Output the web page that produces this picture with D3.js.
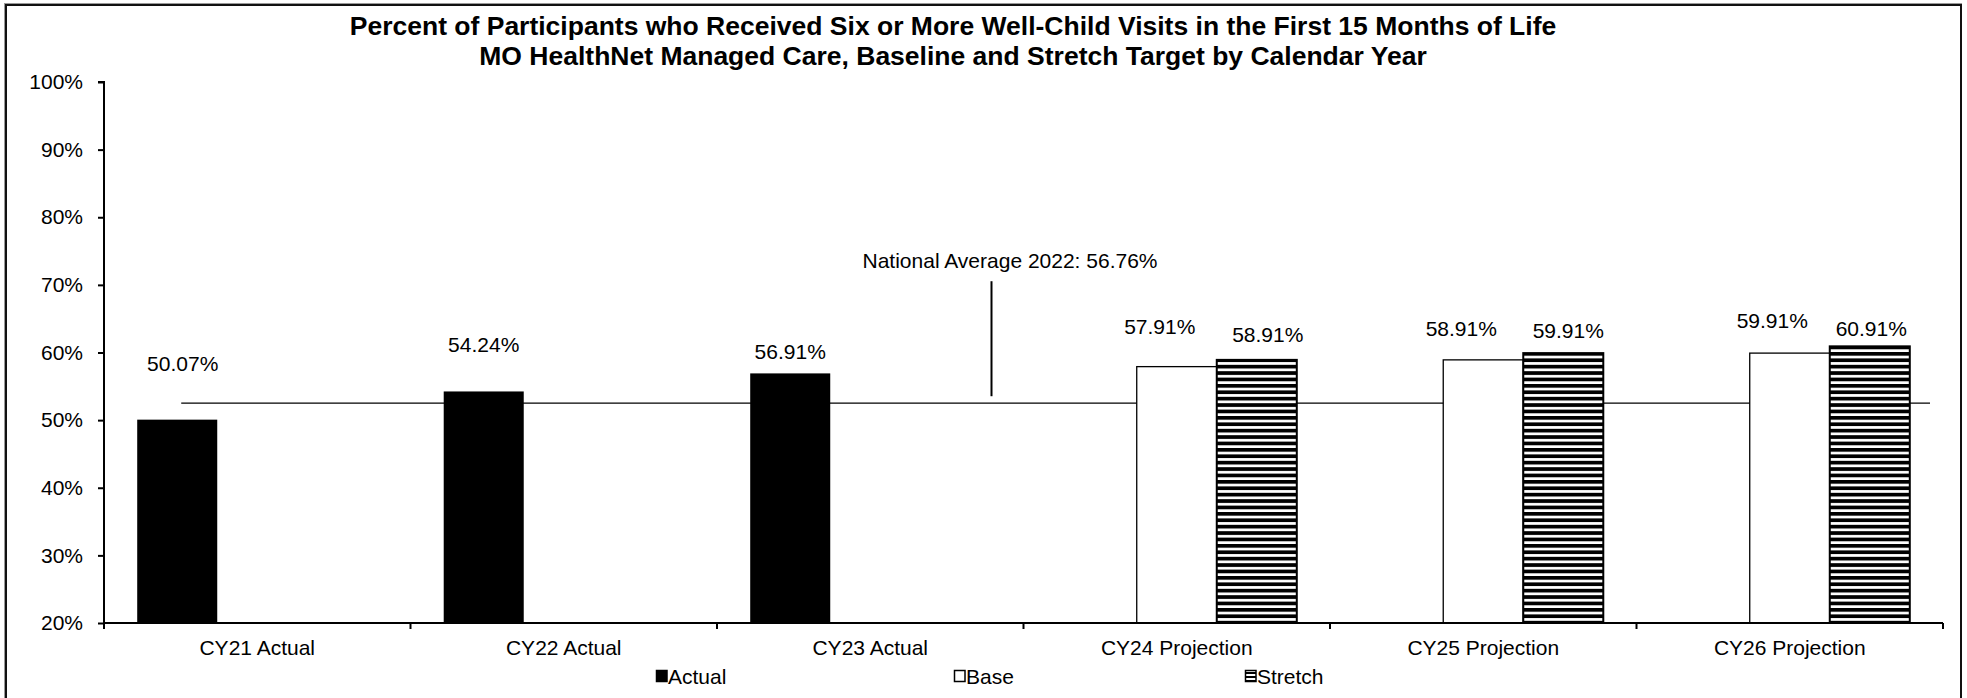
<!DOCTYPE html>
<html>
<head>
<meta charset="utf-8">
<script src="https://cdn.jsdelivr.net/npm/d3@7/dist/d3.min.js"></script>
<style>
  html, body { margin: 0; padding: 0; background: #fff; }
  svg { display: block; }
  text { font-family: "Liberation Sans", Arial, sans-serif; fill: #000; }
</style>
</head>
<body>
<svg id="chart" width="1967" height="698"></svg>
<script>
// ---------- data ----------
const titleLines = [
  "Percent of Participants who Received Six or More Well-Child Visits in the First 15 Months of Life",
  "MO HealthNet Managed Care, Baseline and Stretch Target by Calendar Year"
];
const categories = ["CY21 Actual", "CY22 Actual", "CY23 Actual", "CY24 Projection", "CY25 Projection", "CY26 Projection"];
const seriesNames = ["Actual", "Base", "Stretch"];
const actualValues  = [50.07, 54.24, 56.91, null, null, null];
const baseValues    = [null, null, null, 57.91, 58.91, 59.91];
const stretchValues = [null, null, null, 58.91, 59.91, 60.91];
const yTicks = [20, 30, 40, 50, 60, 70, 80, 90, 100];
const nationalAverageText = "National Average 2022: 56.76%";
const nationalLineLevel = 52.5;   // level at which the reference line is drawn in the picture

// ---------- layout / style (kept apart from data) ----------
const plot = { left: 104, right: 1943, top: 82, bottom: 623 };
const fontSize = 21;
// label nudges: [dx from bar centre, baseline distance above bar top]
const labelNudge = {
  Actual:  [[5.5, 49], [0, 39], [0, 14], null, null, null],
  Base:    [null, null, null, [-17, 33], [-22, 24], [-17.5, 25.6]],
  Stretch: [null, null, null, [11, 18], [5, 15], [1.5, 10]]
};
const legendX = [656, 954, 1245];

const svg = d3.select("#chart");

// pattern for Stretch
const defs = svg.append("defs");
const pat = defs.append("pattern").attr("id", "hstripe")
  .attr("patternUnits", "userSpaceOnUse").attr("width", 8).attr("height", 6.4);
pat.append("rect").attr("width", 8).attr("height", 6.4).attr("fill", "#fff");
pat.append("rect").attr("width", 8).attr("height", 3.7).attr("fill", "#000");
const patS = defs.append("pattern").attr("id", "hstripeSmall")
  .attr("patternUnits", "userSpaceOnUse").attr("width", 4).attr("height", 4);
patS.append("rect").attr("width", 4).attr("height", 4).attr("fill", "#fff");
patS.append("rect").attr("width", 4).attr("height", 2).attr("fill", "#000");

// outer border
svg.append("rect").attr("x", 4.5).attr("y", 3.5).attr("width", 1957).attr("height", 720)
  .attr("fill", "none").attr("stroke", "#999").attr("stroke-width", 1);
svg.append("rect").attr("x", 6).attr("y", 5).attr("width", 1955).attr("height", 720)
  .attr("fill", "none").attr("stroke", "#111").attr("stroke-width", 2);

// title
const title = svg.append("text").attr("text-anchor", "middle")
  .style("font-weight", "bold").style("font-size", "26.5px");
titleLines.forEach((t, i) => {
  title.append("tspan").attr("x", 953).attr("y", 35 + i * 30).text(t);
});

// scales
const x0 = d3.scaleBand().domain(categories).range([plot.left, plot.right]).paddingInner(0).paddingOuter(0);
const x1 = d3.scaleBand().domain(seriesNames).range([0, x0.bandwidth()]).paddingInner(0).paddingOuter(0.415);
const y = d3.scaleLinear().domain([20, 100]).range([plot.bottom, plot.top]);

const seriesData = { Actual: actualValues, Base: baseValues, Stretch: stretchValues };
const fills = { Actual: "#000", Base: "#fff", Stretch: "url(#hstripe)" };

// national average line (behind bars)
const natY = y(nationalLineLevel);
const natX1 = x0(categories[0]) + x1("Actual") + x1.bandwidth() / 2 + 4;
const natX2 = plot.right - 13;
svg.append("line").attr("x1", natX1).attr("x2", natX2).attr("y1", natY).attr("y2", natY)
  .attr("stroke", "#000").attr("stroke-width", 1.3);

// bars
seriesNames.forEach(s => {
  const vals = seriesData[s];
  const recs = categories.map((c, i) => ({ c, i, v: vals[i] })).filter(d => d.v != null);
  svg.append("g").selectAll("rect").data(recs).join("rect")
    .attr("x", d => x0(d.c) + x1(s))
    .attr("width", x1.bandwidth())
    .attr("y", d => y(d.v))
    .attr("height", d => y(20) - y(d.v))
    .attr("fill", fills[s])
    .attr("stroke", s === "Actual" ? "none" : "#000")
    .attr("stroke-width", s === "Stretch" ? 2 : 1.3);
  svg.append("g").selectAll("text").data(recs).join("text")
    .attr("text-anchor", "middle")
    .style("font-size", fontSize + "px")
    .attr("x", d => x0(d.c) + x1(s) + x1.bandwidth() / 2 + labelNudge[s][d.i][0])
    .attr("y", d => y(d.v) - labelNudge[s][d.i][1])
    .text(d => d.v.toFixed(2) + "%");
});

// callout
const calloutX = x0(categories[3]) - 32;
svg.append("line").attr("x1", calloutX).attr("x2", calloutX)
  .attr("y1", natY - 7).attr("y2", natY - 122)
  .attr("stroke", "#000").attr("stroke-width", 2);
svg.append("text").attr("x", calloutX - 129).attr("y", natY - 135)
  .style("font-size", fontSize + "px").text(nationalAverageText);

// y axis
const yAxis = d3.axisLeft(y).tickValues(yTicks).tickFormat(d => d + "%").tickSize(6).tickPadding(15);
const gy = svg.append("g").attr("transform", `translate(${plot.left},0)`).call(yAxis);
gy.select(".domain").attr("stroke", "#000").attr("stroke-width", 2).attr("d", `M-6,${plot.top}H0V${plot.bottom}`);
gy.selectAll(".tick line").attr("stroke", "#000").attr("stroke-width", 2);
gy.selectAll(".tick text").style("font-size", fontSize + "px")
  .style("font-family", "'Liberation Sans', Arial, sans-serif").attr("fill", "#000");

// x axis
const gx = svg.append("g").attr("transform", `translate(0,${plot.bottom})`);
gx.append("line").attr("x1", plot.left).attr("x2", plot.right).attr("y1", 0).attr("y2", 0)
  .attr("stroke", "#000").attr("stroke-width", 2);
const boundaries = categories.map(c => x0(c)).concat([plot.right]);
gx.selectAll("line.tk").data(boundaries).join("line").attr("class", "tk")
  .attr("x1", d => d).attr("x2", d => d).attr("y1", 0).attr("y2", 6)
  .attr("stroke", "#000").attr("stroke-width", 2);
gx.selectAll("text").data(categories).join("text")
  .attr("text-anchor", "middle")
  .attr("x", d => x0(d) + x0.bandwidth() / 2)
  .attr("y", 32)
  .style("font-size", fontSize + "px")
  .text(d => d);

// legend
const legY = 676;
const leg = svg.append("g");
seriesNames.forEach((s, i) => {
  const g = leg.append("g").attr("transform", `translate(${legendX[i]},${legY})`);
  g.append("rect").attr("x", 0.5).attr("y", -5.5).attr("width", 10.5).attr("height", 11)
    .attr("fill", s === "Stretch" ? "url(#hstripeSmall)" : fills[s])
    .attr("stroke", "#000").attr("stroke-width", 1.5);
  g.append("text").attr("x", 12).attr("y", 7.5).style("font-size", fontSize + "px").text(s);
});
</script>
</body>
</html>
